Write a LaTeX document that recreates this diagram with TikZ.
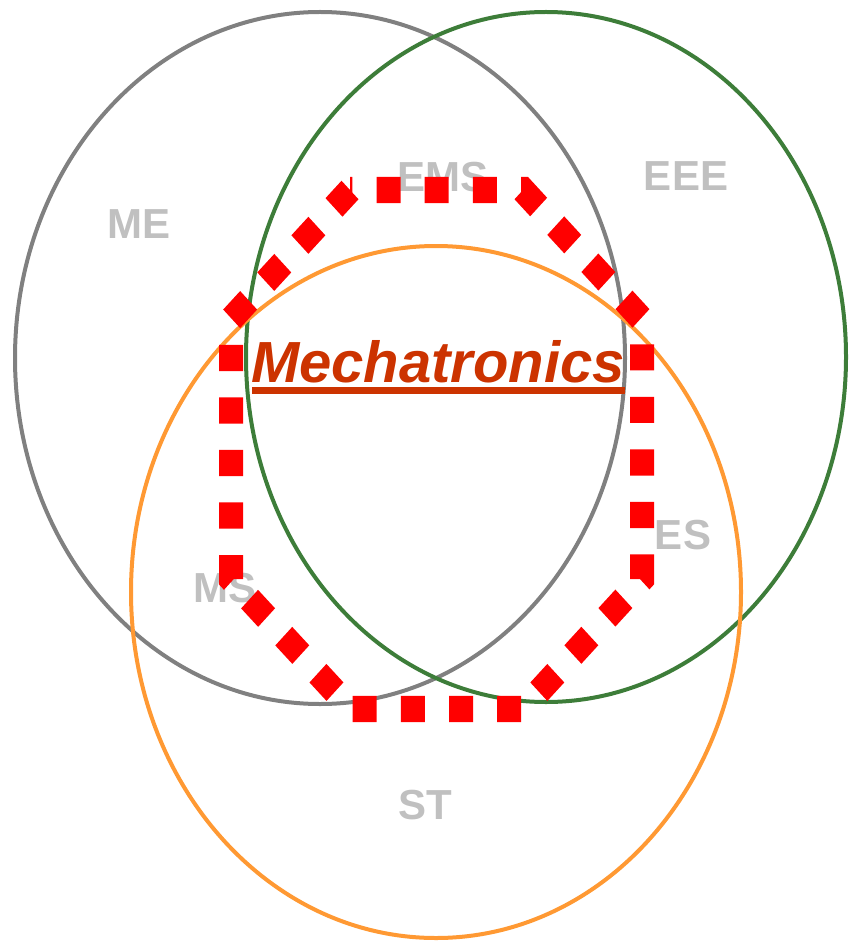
\documentclass[tikz,border=0pt]{standalone}
\usepackage{fontspec}
\setmainfont{Liberation Sans}
\definecolor{mecircle}{RGB}{128,128,128}
\definecolor{eecircle}{RGB}{61,125,57}
\definecolor{stcircle}{RGB}{255,153,51}
\definecolor{labelgray}{RGB}{192,192,192}
\definecolor{mechred}{RGB}{204,51,0}
\definecolor{octred}{RGB}{255,0,0}
\tikzset{
  ring/.style={line width=4pt},
  area/.style={text=labelgray, font=\fontsize{42}{42}\selectfont\bfseries, inner sep=0pt},
  octo/.style={draw=octred, line width=24pt, dash pattern=on 24pt off 24.2pt, dash phase=21.7pt, line cap=butt, line join=miter},
  titletext/.style={font=\fontsize{58}{58}\selectfont\bfseries\itshape, inner sep=0pt, anchor=base}
}
\begin{document}
\begin{tikzpicture}[x=1pt,y=-1pt]
\useasboundingbox (0,0) rectangle (848,941);
% circles
\draw[ring, draw=mecircle] (320,358) ellipse [x radius=305pt, y radius=346pt];
\draw[ring, draw=eecircle] (546,357) ellipse [x radius=300pt, y radius=345pt];
\draw[ring, draw=stcircle] (436,592) ellipse [x radius=305pt, y radius=346pt];
% labels
\node[area] (me) at (139,224) {ME};
\node[area] (eee) at (686,176) {EEE};
\node[area] (ems) at (443,177) {EMS};
\node[area] (es) at (683,535) {ES};
\node[area] (ms) at (225,588) {MS};
\node[area] (st) at (425,805) {ST};
% octagon (drawn in a vertically stretched canvas)
\begin{scope}[transform canvas={yscale=1.09}]
\coordinate (o1) at (350,174.31);
\coordinate (o2) at (523,174.31);
\coordinate (o3) at (642,293.12);
\coordinate (o4) at (642,531.19);
\coordinate (o5) at (523,650.46);
\coordinate (o6) at (351,650.46);
\coordinate (o7) at (231,531.19);
\coordinate (o8) at (231,293.12);
\draw[octo] (o1) -- (o2) -- (o3) -- (o4) -- (o5) -- (o6) -- (o7) -- (o8) -- cycle;
\end{scope}
% title
\node[titletext, text=mechred] (mech) at (438,382) {Mechatronics};
\fill[mechred] (252,387) rectangle (625,394);
\end{tikzpicture}
\end{document}
